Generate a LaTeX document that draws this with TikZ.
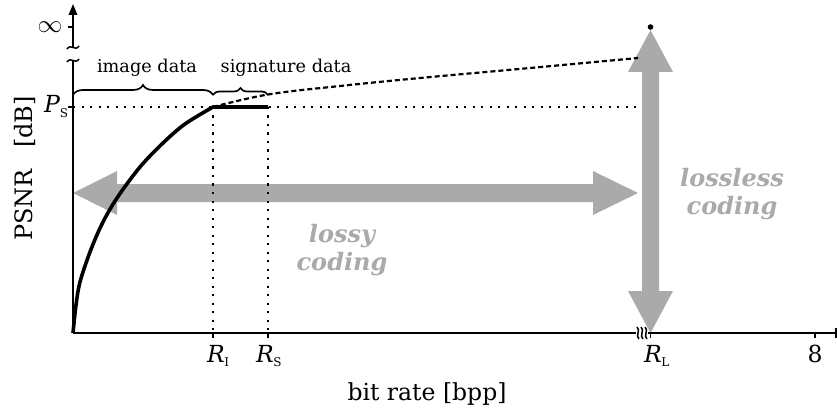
\documentclass[tikz,border=0pt]{standalone}
\usepackage{fontspec}
\setmainfont{DejaVu Serif}
\usetikzlibrary{arrows.meta,decorations.pathreplacing}
\definecolor{arrgray}{RGB}{170,170,170}
\definecolor{txtgray}{RGB}{170,170,170}
\newcommand{\fsz}[1]{\fontsize{#1}{#1}\selectfont}
\newcommand{\sublab}[2]{\textit{#1}\kern-0.5pt\raisebox{-0.35ex}{\fsz{12}#2}}
\tikzset{
  axisline/.style={line width=1.9pt, black},
  ticks/.style={line width=1.9pt, black},
  dotline/.style={line width=2.2pt, dash pattern=on 2.2pt off 6.3pt, black},
  dashcurve/.style={line width=2.2pt, dash pattern=on 5pt off 3pt, black},
  ratecurve/.style={line width=3.6pt, black, line join=round},
  grayarrow/.style={fill=arrgray, draw=none},
  bracestyle/.style={line width=1.7pt, decorate},
  axlabel/.style={font=\fsz{23.5}, inner sep=0pt},
  bracelabel/.style={font=\fsz{17.7}, inner sep=0pt},
  graylabel/.style={font=\fsz{24}\bfseries\itshape, text=txtgray, inner sep=0pt},
  breakmark/.style={line width=1.5pt, black}
}
\begin{document}
\begin{tikzpicture}[x=1pt,y=-1pt]
\useasboundingbox (0,0) rectangle (837,414);

% key points
\coordinate (O) at (73,333);
\coordinate (RI) at (213,333);
\coordinate (RS) at (268,333);
\coordinate (RL) at (650.5,333);
\coordinate (R8) at (815,333);
\coordinate (PI) at (213,107);
\coordinate (PS) at (268,107);
\coordinate (PY) at (73,107);
\coordinate (PE) at (642,107);

% gray arrows
\fill[grayarrow] (73,193) -- (117,171) -- (117,184) -- (593,184) -- (593,171) -- (638,193)
  -- (593,215) -- (593,202) -- (117,202) -- (117,215) -- cycle;
\fill[grayarrow] (650.5,30) -- (673,72) -- (659,72) -- (659,291) -- (673,291) -- (650.5,333)
  -- (628,291) -- (642,291) -- (642,72) -- (628,72) -- cycle;
\fill (650.5,27) circle (2.8pt);

% dotted guides
\draw[dotline] (PY) -- (PE);
\draw[dotline] (PI) -- (RI);
\draw[dotline] (PS) -- (RS);

% curves
\draw[ratecurve] plot[smooth, tension=0.55] coordinates {(73,333) (76,305) (80,282) (90,252) (102,224) (117,198) (140,167) (163,143) (185,124) (213,107)} -- (PS);
\draw[dashcurve] plot[smooth, tension=0.6] coordinates {(213,107) (268,94.5) (340,86) (420,78) (530,68) (638,58)};

% axes
\draw[axisline] (O) -- (73,61);
\draw[axisline, -{Triangle[length=11pt,width=8.5pt]}] (73,47) -- (73,4);
\draw[breakmark] (67,62) .. controls (71,56) and (75,65) .. (79,59);
\draw[breakmark] (67,49) .. controls (71,43) and (75,52) .. (79,46);
\draw[axisline] (O) -- (636,333);
\draw[axisline] (648,333) -- (836,333);
\draw[line width=1.5pt] (836,328) -- (836,338);
\foreach \xx in {637,641,645}{
  \draw[breakmark] (\xx,327) .. controls (\xx+4,330) and (\xx-2,336) .. (\xx+2,339);
}

% ticks
\draw[ticks] (RI) -- ++(0,5);
\draw[ticks] (RS) -- ++(0,5);
\draw[ticks] (RL) -- ++(0,5);
\draw[ticks] (R8) -- ++(0,5);
\draw[ticks] (73,27) -- (68,27);
\draw[ticks] (PY) -- (68,107);

% braces
\draw[bracestyle, decoration={brace, amplitude=10pt}] (73,95) -- (213,95);
\draw[bracestyle, decoration={brace, amplitude=7pt}] (213,95) -- (268,95);

% labels
\node[bracelabel, anchor=base] (imgdata) at (147,73) {image data};
\node[bracelabel, anchor=base] (sigdata) at (286,73) {signature data};
\node[axlabel, anchor=base west] (lps) at (44,113) {\sublab{P}{S}};
\node[axlabel] (linf) at (50,27) {$\infty$};
\node[axlabel, anchor=base west] (lri) at (207,362) {\sublab{R}{I}};
\node[axlabel, anchor=base west] (lrs) at (256,362) {\sublab{R}{S}};
\node[axlabel, anchor=base west] (lrl) at (644,362) {\sublab{R}{L}};
\node[axlabel, anchor=base] (l8) at (815,362) {8};
\node[axlabel, anchor=base] (xlab) at (427,400) {bit rate [bpp]};
\node[axlabel, anchor=base, rotate=90, font=\fsz{24}] (ylab) at (32,168.5) {PSNR\hspace{0.9em}[dB]};
\node[graylabel, anchor=base] (lossy1) at (342,242) {lossy};
\node[graylabel, anchor=base] (lossy2) at (342,270) {coding};
\node[graylabel, anchor=base] (lossless1) at (732,186) {lossless};
\node[graylabel, anchor=base] (lossless2) at (732,214) {coding};
\end{tikzpicture}
\end{document}
